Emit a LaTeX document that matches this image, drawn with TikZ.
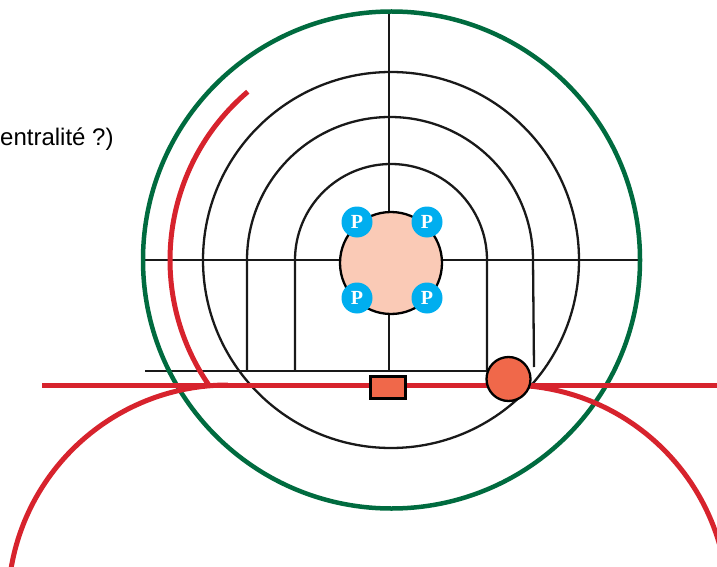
\documentclass[tikz,border=0pt]{standalone}
\usepackage{fontspec}
\setmainfont{Liberation Sans}
\newfontfamily\pfont{Liberation Serif}
\definecolor{ringgreen}{RGB}{0,107,63}
\definecolor{roadred}{RGB}{215,35,45}
\definecolor{stoporange}{RGB}{240,104,74}
\definecolor{corepink}{RGB}{250,202,182}
\definecolor{pblue}{RGB}{0,174,239}
\tikzset{
  ring/.style={line width=2.3pt, black!90},
  road/.style={line width=5pt, roadred},
  parking/.style={circle, fill=pblue, minimum size=31pt, inner sep=0pt, text=white,
    font=\pfont\bfseries\fontsize{20}{20}\selectfont},
}
\begin{document}
\begin{tikzpicture}[x=1pt,y=1pt]
    \useasboundingbox (0,0) rectangle (717,566);
    \clip (0,0) rectangle (717,566);
    % axes
    \draw[ring] (143,306) -- (640,306);
    \draw[ring] (389,554) -- (389,195);
    % rings
    \draw[ring] (391,306) circle (188);
    \draw[ring] (247,195) -- (247,306) arc (180:0:143) -- (534,199);
    \draw[ring] (295,195) -- (295,306) arc (180:0:96) -- (487,195);
    \draw[ring] (145,195) -- (490,195);
    % outer limit
    \draw[line width=4.5pt, ringgreen] (391.5,306) circle (248.5);
    % roads
    \draw[road] (391,306) ++(130.4:221) arc (130.4:214.5:221);
    \draw[road] (42,181) -- (717,181);
    \draw[road] (228,-39) ++(90:220) arc (90:172:220);
    \draw[road] (508,-39) ++(90:220) arc (90:8:220);
    % centre
    \node[circle, draw, fill=corepink, line width=2.3pt, minimum size=102pt] (core) at (391,303) {};
    \node[parking] (p1) at (357,344) {P};
    \node[parking] (p2) at (427,344) {P};
    \node[parking] (p3) at (357,268) {P};
    \node[parking] (p4) at (427,268) {P};
    % stops
    \node[draw, fill=stoporange, line width=2.3pt, minimum width=35pt, minimum height=22pt] (stop) at (388,178.5) {};
    \node[circle, draw, fill=stoporange, line width=2.3pt, minimum size=44pt] (hub) at (508.5,187) {};
    \node[anchor=base west, inner sep=0pt, font=\fontsize{24}{28}\selectfont] (label) at (0,420) {entralité ?)};
\end{tikzpicture}
\end{document}
